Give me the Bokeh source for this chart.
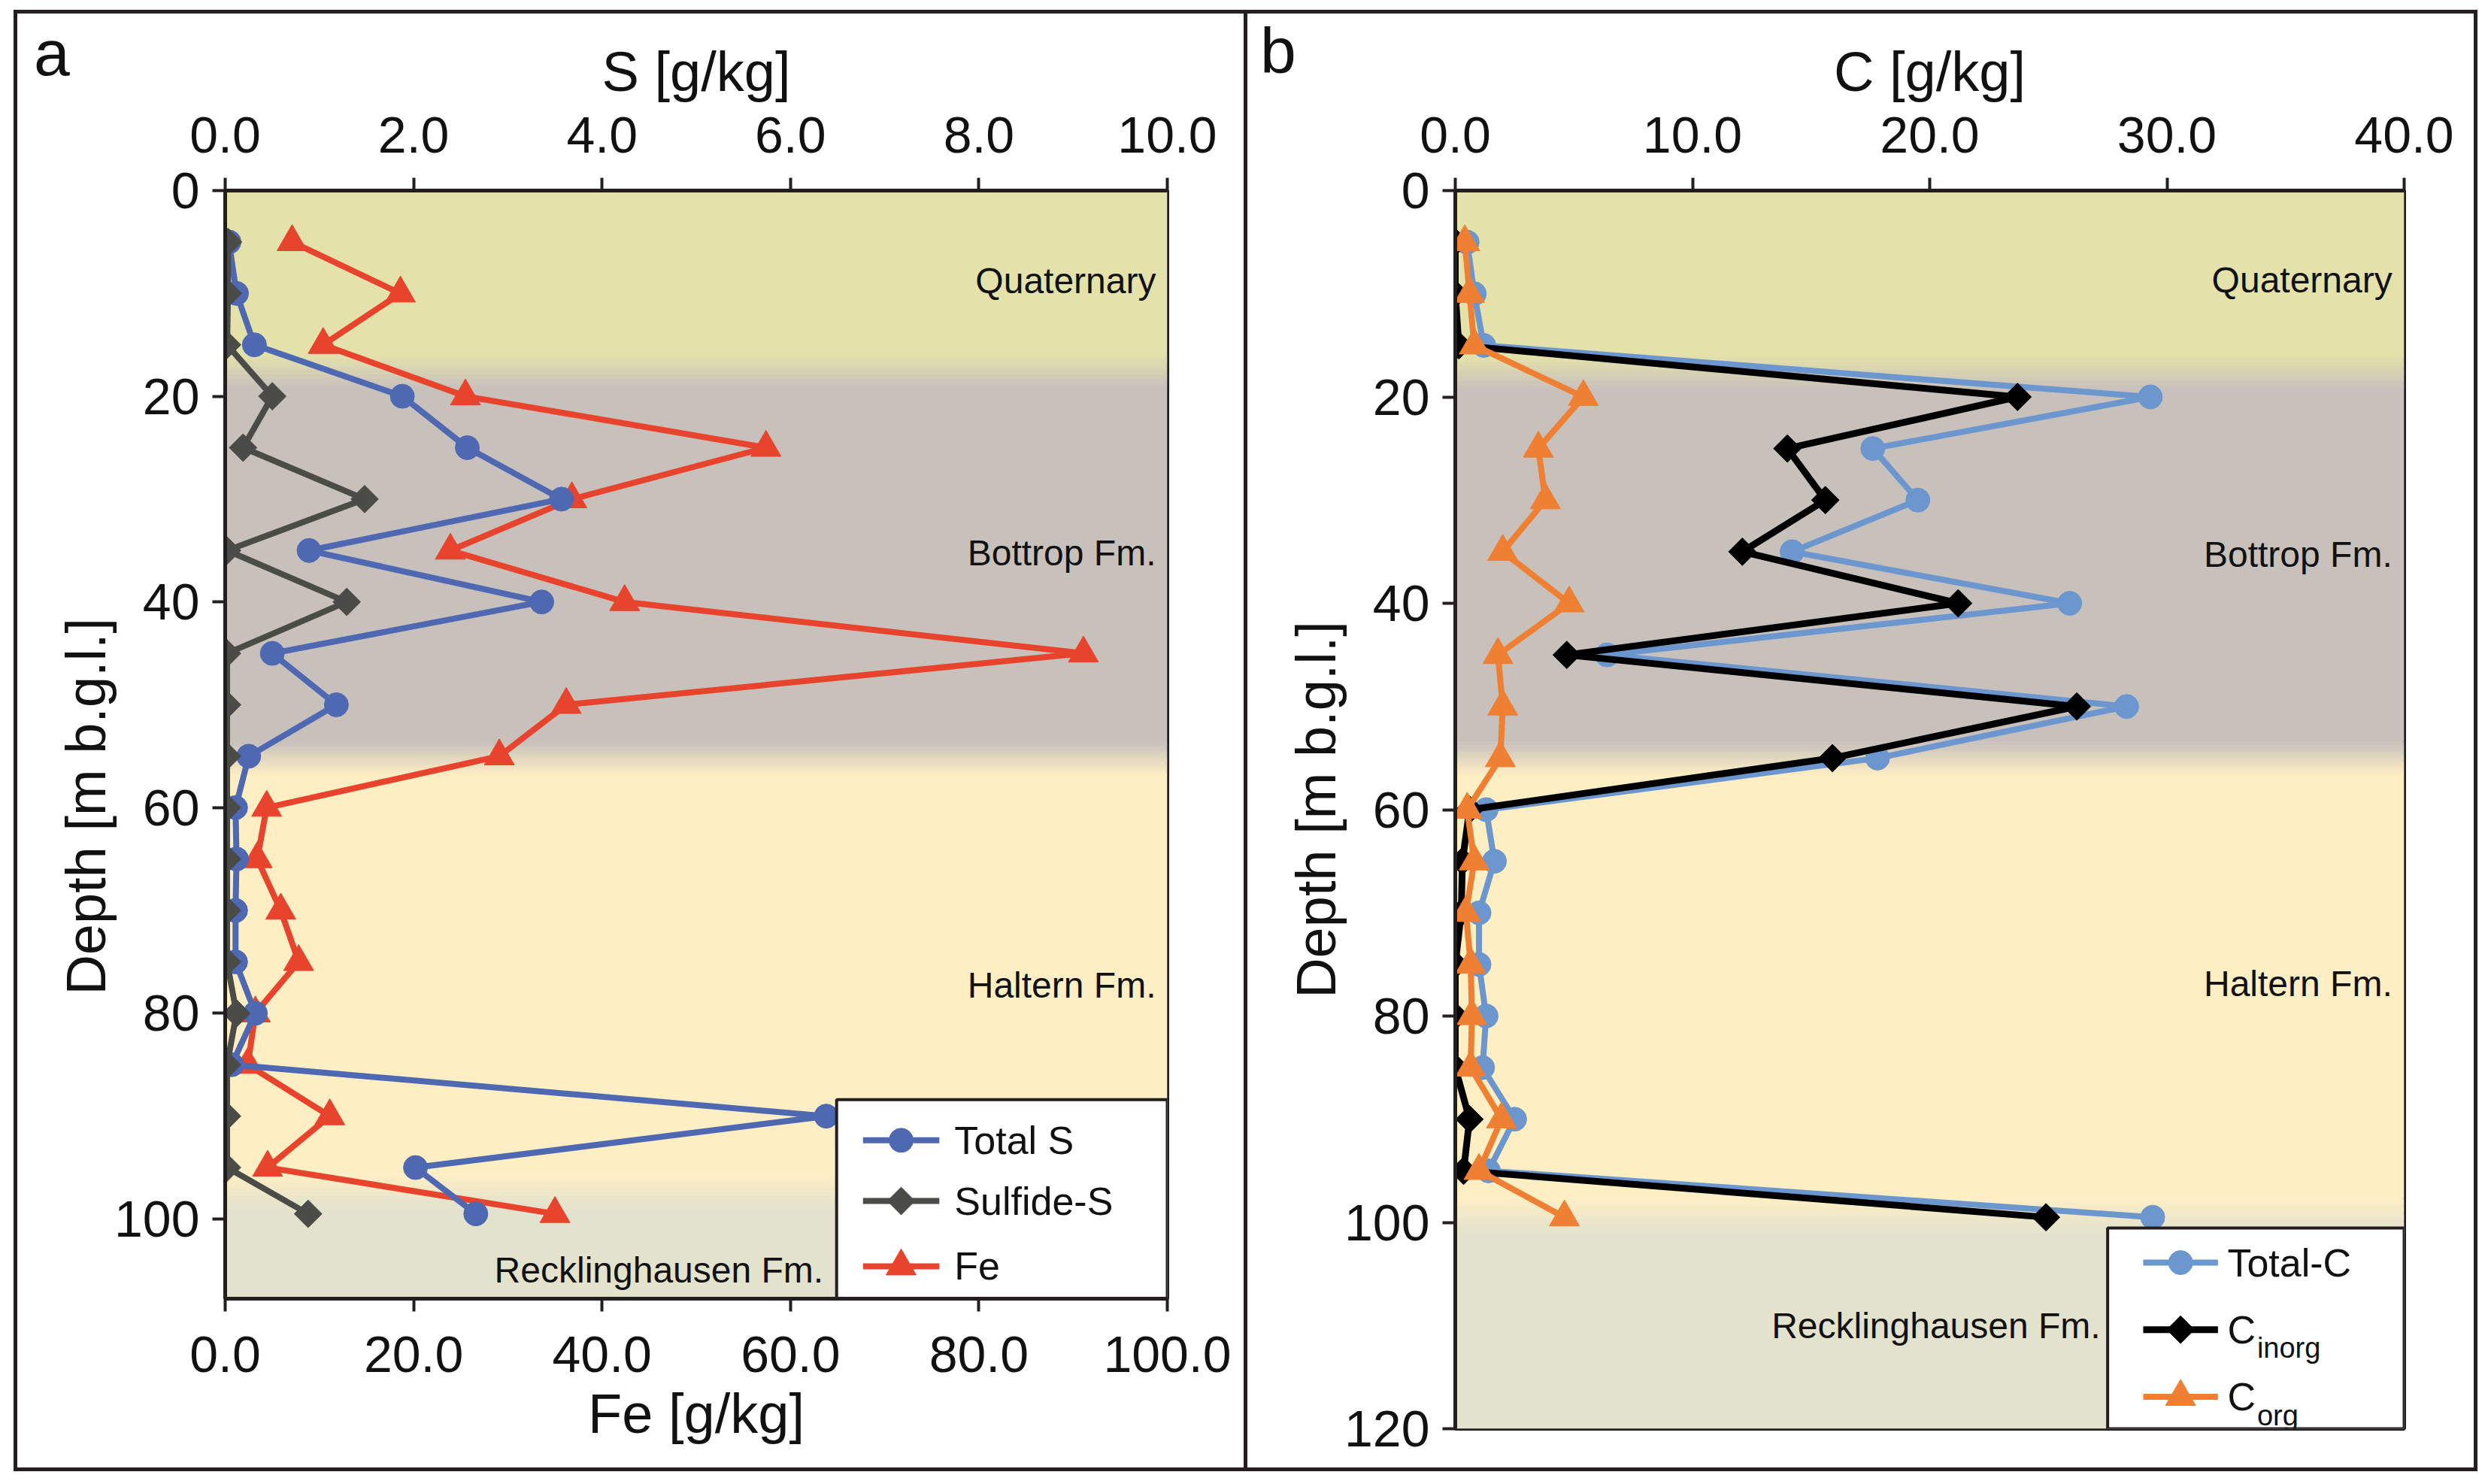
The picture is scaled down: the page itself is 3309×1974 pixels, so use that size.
import math
from bokeh.plotting import figure
from bokeh.models import (Range1d, LinearAxis, FixedTicker, PrintfTickFormatter,
                          ColumnDataSource, Spacer, Div)
from bokeh.layouts import row, column
from bokeh.embed import file_html
from bokeh.resources import INLINE
from bokeh.core.properties import value

FONT = "Liberation Sans"
INK = "#111111"
EDGE = "#231f20"

# ---------------- data ----------------
depth = [5, 10, 15, 20, 25, 30, 35, 40, 45, 50, 55, 60, 65, 70, 75, 80, 85, 90, 95, 99.5]
total_s = [0.04, 0.12, 0.31, 1.88, 2.57, 3.57, 0.89, 3.36, 0.50, 1.18, 0.25, 0.11, 0.12, 0.11, 0.11, 0.32, 0.07, 6.38, 2.02, 2.66]
sulfide_s = [0.03, 0.03, 0.02, 0.50, 0.19, 1.48, 0.02, 1.29, 0.02, 0.02, 0.02, 0.02, 0.02, 0.02, 0.02, 0.12, 0.02, 0.02, 0.02, 0.88]
fe = [7.1, 18.6, 10.4, 25.5, 57.4, 36.8, 23.9, 42.4, 91.1, 36.2, 29.1, 4.4, 3.4, 5.9, 7.8, 3.2, 2.4, 11.1, 4.5, 35.0]
total_c = [0.5, 0.8, 1.2, 29.3, 17.6, 19.5, 14.2, 25.9, 6.4, 28.3, 17.8, 1.3, 1.65, 1.0, 1.0, 1.3, 1.15, 2.5, 1.4, 29.4]
c_inorg = [0.0, 0.0, 0.15, 23.7, 14.0, 15.6, 12.1, 21.2, 4.7, 26.2, 15.9, 0.6, 0.3, 0.25, 0.0, 0.0, 0.0, 0.6, 0.35, 24.9]
c_org = [0.4, 0.6, 0.8, 5.4, 3.5, 3.8, 2.0, 4.8, 1.8, 2.0, 1.9, 0.5, 0.8, 0.45, 0.65, 0.7, 0.65, 1.95, 1.0, 4.6]

s_ticks = [0, 2, 4, 6, 8, 10]
fe_ticks = [0, 20, 40, 60, 80, 100]
c_ticks = [0, 10, 20, 30, 40]
depth_ticks_a = [0, 20, 40, 60, 80, 100]
depth_ticks_b = [0, 20, 40, 60, 80, 100, 120]

formations = ["Quaternary", "Bottrop Fm.", "Haltern Fm.", "Recklinghausen Fm."]
formation_colors = ["#e4e1aa", "#c8c1bb", "#feeec3", "#e3e2cd"]
boundaries_a = [17.5, 55.3, 97.3]
boundaries_b = [17.6, 55.1, 99.3]

# formation label anchors (right-aligned)
flabel_x_a = [9.88, 9.88, 9.88, 6.35]
flabel_y_a = [8.8, 35.2, 77.3, 105.0]
flabel_x_b = [39.5, 39.5, 39.5, 27.2]
flabel_y_b = [8.65, 35.3, 76.9, 110.0]

legend_a_labels = ["Total S", "Sulfide-S", "Fe"]
legend_b_labels = ["Total-C", "C", "C"]
legend_b_subs = ["inorg", "org"]

panel_letters = ["a", "b"]
depth_title = "Depth [m b.g.l.]"

# ---------------- styles ----------------
BLUE = "#4f68b2"
GREY = "#4b4b48"
RED = "#e8432c"
LBLUE = "#6b97ce"
BLACK = "#000000"
ORANGE = "#ef7f32"
LW = 8


def hex_rgb(h):
    return tuple(int(h[i:i + 2], 16) for i in (1, 3, 5))


def mix(c1, c2, f):
    return "#%02x%02x%02x" % tuple(int(round(a + (b - a) * f)) for a, b in zip(c1, c2))


def add_bands(p, boundaries, xmax, ymax, half=1.6, steps=24):
    edges = [0.0] + boundaries + [ymax]
    tops, bots, cols = [], [], []
    for i, col in enumerate(formation_colors):
        t = edges[i] + (half if i > 0 else 0.0)
        b = edges[i + 1] - (half if i < len(boundaries) else 0.0)
        tops.append(t)
        bots.append(b)
        cols.append(col)
    for i, c in enumerate(boundaries):
        c1, c2 = hex_rgb(formation_colors[i]), hex_rgb(formation_colors[i + 1])
        for k in range(steps):
            y0 = c - half + 2 * half * k / steps
            y1 = c - half + 2 * half * (k + 1) / steps
            tops.append(y0 - 0.02)
            bots.append(y1 + 0.02)
            cols.append(mix(c1, c2, (k + 0.5) / steps))
    p.quad(left=0, right=xmax, top=tops, bottom=bots, fill_color=cols, line_color=None)


def style_axis(ax, ticks, fmt, label, tick_std, label_std):
    ax.ticker = FixedTicker(ticks=ticks)
    ax.formatter = PrintfTickFormatter(format=fmt)
    ax.axis_label = label
    ax.axis_label_text_font = FONT
    ax.axis_label_text_font_size = "74px"
    ax.axis_label_text_font_style = "normal"
    ax.axis_label_text_color = INK
    ax.axis_label_standoff = label_std
    ax.major_label_text_font = FONT
    ax.major_label_text_font_size = "68px"
    ax.major_label_text_color = INK
    ax.major_label_standoff = tick_std
    ax.axis_line_color = EDGE
    ax.axis_line_width = 5
    ax.major_tick_line_color = EDGE
    ax.major_tick_line_width = 4
    ax.major_tick_out = 17
    ax.major_tick_in = 0
    ax.minor_tick_out = 0
    ax.minor_tick_in = 0
    ax.minor_tick_line_color = None


def series(p, xs, color, marker, size, lw, angle=0.0, rng="default"):
    src = ColumnDataSource(dict(x=xs, y=depth))
    p.line("x", "y", source=src, line_color=color, line_width=lw, line_join="round",
           x_range_name=rng)
    p.scatter("x", "y", source=src, marker=marker, size=size, angle=angle,
              fill_color=color, line_color=color, x_range_name=rng)


def base_fig(fw, fh, xr, yr, ml, mr, mt, mb):
    p = figure(frame_width=fw, frame_height=fh, x_range=xr, y_range=yr,
               x_axis_type=None, y_axis_type=None, output_backend="svg",
               toolbar_location=None, min_border_left=ml, min_border_right=mr,
               min_border_top=mt, min_border_bottom=mb)
    p.outline_line_color = EDGE
    p.outline_line_width = 5
    p.background_fill_color = "white"
    p.border_fill_color = "white"
    return p


# ---------------- panel a ----------------
pa = base_fig(1253, 1474, Range1d(0, 10), Range1d(107.75, 0), 276, 102, 235, 225)
pa.extra_x_ranges = {"fe": Range1d(0, 100)}
add_bands(pa, boundaries_a, 10, 107.75)

s_axis = LinearAxis()
style_axis(s_axis, s_ticks, "%.1f", "S [g/kg]", 34, 16)
pa.add_layout(s_axis, "above")
fe_axis = LinearAxis(x_range_name="fe")
style_axis(fe_axis, fe_ticks, "%.1f", "Fe [g/kg]", 33, 11)
pa.add_layout(fe_axis, "below")
da_axis = LinearAxis()
# trailing no-break spaces shift the visible title down, as in the original figure
style_axis(da_axis, depth_ticks_a, "%d", depth_title + "\u00a0" * 8, 17, -7)
pa.add_layout(da_axis, "left")

series(pa, fe, RED, "triangle", 40, LW, rng="fe")
series(pa, total_s, BLUE, "circle", 32, LW)
series(pa, sulfide_s, GREY, "square", 26, LW, angle=math.pi / 4)

pa.text(x=flabel_x_a, y=flabel_y_a, text=formations, text_align="right",
        text_baseline="middle", text_font=value(FONT), text_font_size="48px",
        text_color=INK)

# legend a (drawn in plot coordinates)
LA_BOX = (6.49, 10.0, 88.4, 107.75)
LA_ROWS = [92.35, 98.25, 104.6]
LA_X0, LA_X1, LA_TX = 6.77, 7.58, 7.74
pa.quad(left=[LA_BOX[0]], right=[LA_BOX[1]], top=[LA_BOX[2]], bottom=[LA_BOX[3]],
        fill_color="white", line_color=EDGE, line_width=4)
leg_a_style = [(BLUE, "circle", 32, 0.0), (GREY, "square", 26, math.pi / 4),
               (RED, "triangle", 40, 0.0)]
for yy, (col, mk, sz, ang) in zip(LA_ROWS, leg_a_style):
    pa.segment(x0=[LA_X0], x1=[LA_X1], y0=[yy], y1=[yy], line_color=col, line_width=LW)
    pa.scatter(x=[(LA_X0 + LA_X1) / 2], y=[yy], marker=mk, size=sz, angle=ang,
               fill_color=col, line_color=col)
pa.text(x=[LA_TX] * 3, y=LA_ROWS, text=legend_a_labels, text_align="left",
        text_baseline="middle", text_font=value(FONT), text_font_size="52px",
        text_color=INK)

# ---------------- panel b ----------------
pb = base_fig(1262, 1647, Range1d(0, 40), Range1d(120, 0), 276, 93, 232, 55)
add_bands(pb, boundaries_b, 40, 120)

c_axis = LinearAxis()
style_axis(c_axis, c_ticks, "%.1f", "C [g/kg]", 34, 16)
pb.add_layout(c_axis, "above")
db_axis = LinearAxis()
style_axis(db_axis, depth_ticks_b, "%d", depth_title, 17, -7)
pb.add_layout(db_axis, "left")

series(pb, total_c, LBLUE, "circle", 32, LW)
series(pb, c_inorg, BLACK, "square", 26, 9, angle=math.pi / 4)
series(pb, c_org, ORANGE, "triangle", 40, LW)

pb.text(x=flabel_x_b, y=flabel_y_b, text=formations, text_align="right",
        text_baseline="middle", text_font=value(FONT), text_font_size="48px",
        text_color=INK)

LB_BOX = (27.5, 40.0, 100.55, 120.0)
LB_ROWS = [103.9, 110.4, 116.9]
LB_X0, LB_X1, LB_TX, LB_SX = 29.0, 32.15, 32.55, 33.8
pb.quad(left=[LB_BOX[0]], right=[LB_BOX[1]], top=[LB_BOX[2]], bottom=[LB_BOX[3]],
        fill_color="white", line_color=EDGE, line_width=4)
leg_b_style = [(LBLUE, "circle", 32, 0.0, LW), (BLACK, "square", 26, math.pi / 4, 9),
               (ORANGE, "triangle", 40, 0.0, LW)]
for yy, (col, mk, sz, ang, lw) in zip(LB_ROWS, leg_b_style):
    pb.segment(x0=[LB_X0], x1=[LB_X1], y0=[yy], y1=[yy], line_color=col, line_width=lw)
    pb.scatter(x=[(LB_X0 + LB_X1) / 2], y=[yy], marker=mk, size=sz, angle=ang,
               fill_color=col, line_color=col)
pb.text(x=[LB_TX] * 3, y=LB_ROWS, text=legend_b_labels, text_align="left",
        text_baseline="middle", text_font=value(FONT), text_font_size="52px",
        text_color=INK)
pb.text(x=[LB_SX] * 2, y=[LB_ROWS[1] + 1.8, LB_ROWS[2] + 1.8], text=legend_b_subs,
        text_align="left", text_baseline="alphabetic", text_font=value(FONT),
        text_font_size="38px", text_color=INK)

# ---------------- panel letters (overlay) ----------------
LETTER_STYLE = ("position:absolute; font-family:'Liberation Sans', Arial, sans-serif; "
                "font-size:86px; line-height:86px; color:%s; white-space:nowrap; margin:0;" % INK)
letters_html = (
    '<div style="%s left:45px; top:27px;">%s</div>' % (LETTER_STYLE, panel_letters[0])
    + '<div style="%s left:1676px; top:24px;">%s</div>' % (LETTER_STYLE, panel_letters[1])
)
overlay = Div(text=letters_html, width=3290, height=1, margin=0,
              styles={"position": "relative", "z-index": "1000", "overflow": "visible",
                      "pointer-events": "none"})


# ---------------- frame lines & layout ----------------
def bar(w, h):
    return Spacer(width=w, height=h, styles={"background-color": EDGE})


H_MID = 1934
LEFT = 18
layout = column(
    overlay,
    Spacer(width=LEFT, height=12),
    row(Spacer(width=LEFT, height=5), bar(3277, 5)),
    row(Spacer(width=LEFT, height=H_MID), bar(5, H_MID), pa, bar(5, H_MID), pb,
        bar(5, H_MID)),
    row(Spacer(width=LEFT, height=5), bar(3277, 5)),
)

open("out.html", "w").write(file_html(layout, INLINE))
